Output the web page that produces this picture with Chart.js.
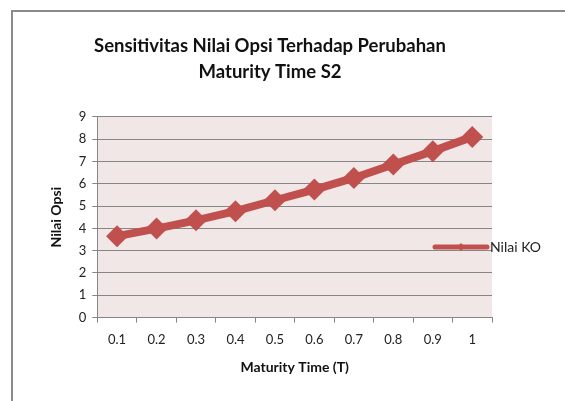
<!DOCTYPE html>
<html>
<head>
<meta charset="utf-8">
<script src="https://cdn.jsdelivr.net/npm/chart.js@4"></script>
<style>
  html, body { margin: 0; padding: 0; background: #ffffff; }
  #wrap { position: relative; width: 565px; height: 401px; }
</style>
</head>
<body>
<div id="wrap"><canvas id="chart" width="565" height="401"></canvas></div>
<script>
// Maturity time categories and option values
const maturityLabels = ['0.1', '0.2', '0.3', '0.4', '0.5', '0.6', '0.7', '0.8', '0.9', '1'];
const nilaiKO = [3.65, 3.99, 4.36, 4.77, 5.26, 5.74, 6.26, 6.86, 7.46, 8.10];
const seriesName = 'Nilai KO';

const RED = '#C0504D';
const GRID = '#868686';
const FONT = 'Lato, "Liberation Sans", sans-serif';

// grey frame of the chart object + pink plot background + legend on the right
const excelLook = {
    id: 'excelLook',
    beforeDraw(chart) {
        const ctx = chart.ctx;
        const a = chart.chartArea;
        ctx.save();
        ctx.strokeStyle = '#8A8A8A';
        ctx.lineWidth = 2;
        ctx.beginPath();
        ctx.moveTo(12, 401);
        ctx.lineTo(12, 11);
        ctx.lineTo(565, 11);
        ctx.stroke();
        ctx.fillStyle = '#F2E7E7';
        ctx.fillRect(a.left, a.top, a.right - a.left, a.bottom - a.top);
        ctx.restore();
    },
    afterDraw(chart) {
        const ctx = chart.ctx;
        const y = 247;
        ctx.save();
        ctx.strokeStyle = RED;
        ctx.lineWidth = 5;
        ctx.lineCap = 'round';
        ctx.beginPath();
        ctx.moveTo(435, y);
        ctx.lineTo(487, y);
        ctx.stroke();
        ctx.fillStyle = RED;
        ctx.beginPath();
        ctx.moveTo(461, y - 4);
        ctx.lineTo(465, y);
        ctx.lineTo(461, y + 4);
        ctx.lineTo(457, y);
        ctx.closePath();
        ctx.fill();
        ctx.fillStyle = '#222222';
        ctx.font = '14px ' + FONT;
        ctx.textBaseline = 'middle';
        ctx.fillText(seriesName, 490, y);
        ctx.restore();
    }
};

new Chart(document.getElementById('chart'), {
    type: 'line',
    data: {
        labels: maturityLabels,
        datasets: [{
            label: seriesName,
            data: nilaiKO,
            borderColor: RED,
            backgroundColor: RED,
            borderWidth: 8,
            pointStyle: 'rectRot',
            pointRadius: 11,
            pointHoverRadius: 11,
            pointBackgroundColor: RED,
            pointBorderColor: RED,
            pointBorderWidth: 0,
            tension: 0
        }]
    },
    options: {
        responsive: false,
        animation: false,
        layout: { padding: { top: 0, left: 48, right: 73, bottom: 21 } },
        plugins: {
            legend: { display: false },
            tooltip: { enabled: false },
            title: {
                display: true,
                text: ['Sensitivitas Nilai Opsi Terhadap Perubahan', 'Maturity Time S2'],
                color: '#111111',
                font: { family: FONT, size: 18.5, weight: 'bold', lineHeight: 1.4 },
                padding: { top: 33, bottom: 32 }
            }
        },
        scales: {
            x: {
                offset: true,
                grid: {
                    offset: true,
                    drawOnChartArea: false,
                    drawTicks: true,
                    tickLength: 5,
                    color: GRID
                },
                border: { color: GRID, width: 1 },
                ticks: { color: '#222222', font: { family: FONT, size: 13 }, padding: 9, maxRotation: 0 },
                title: {
                    display: true,
                    text: 'Maturity Time (T)',
                    color: '#111111',
                    font: { family: FONT, size: 14, weight: 'bold' },
                    padding: { top: 3 }
                }
            },
            y: {
                min: 0,
                max: 9,
                ticks: { stepSize: 1, color: '#222222', font: { family: FONT, size: 13 }, padding: 6 },
                grid: { color: GRID, lineWidth: 1, tickLength: 5 },
                border: { color: GRID, width: 1 },
                title: {
                    display: true,
                    text: 'Nilai Opsi',
                    color: '#111111',
                    font: { family: FONT, size: 14, weight: 'bold' },
                    padding: { top: 0, bottom: 8 }
                }
            }
        }
    },
    plugins: [excelLook]
});
</script>
</body>
</html>
